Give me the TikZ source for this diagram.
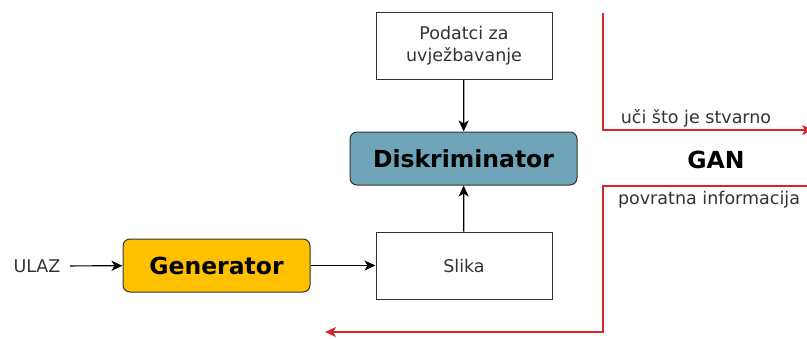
\documentclass[tikz,border=0pt]{standalone}
\usepackage{fontspec}
\setmainfont{DejaVu Sans}
\usetikzlibrary{arrows.meta, positioning}
\definecolor{genYellow}{RGB}{255,192,0}
\definecolor{diskBlue}{RGB}{111,164,184}
\definecolor{fbRed}{RGB}{214,38,44}
\definecolor{boxGray}{gray}{0.2}

\begin{document}
\begin{tikzpicture}[x=1pt, y=-1pt, >={Stealth[length=11pt, width=10pt, inset=3pt]},
    txt/.style={font=\fontsize{17.5}{22}\selectfont, text=boxGray},
    plainbox/.style={txt, draw=boxGray, fill=white, line width=1pt, minimum width=176pt, minimum height=67pt, align=center},
    roundbox/.style={draw=boxGray, line width=1pt, rounded corners=7pt, minimum height=53pt, font=\bfseries\fontsize{23.5}{28}\selectfont},
    link/.style={->, line width=1.2pt},
    redline/.style={->, fbRed, line width=1.2pt}]
    \useasboundingbox (0,0) rectangle (807,338);

    % boxes
    \node[plainbox] (data) at (464,45.5) {Podatci za\\uvježbavanje};
    \node[roundbox, fill=diskBlue, minimum width=227pt] (disk) at (463.5,158.5) {Diskriminator};
    \node[plainbox] (img) at (464,265.5) {Slika};
    \node[roundbox, fill=genYellow, minimum width=187pt] (gen) at (216.5,265.5) {Generator};
    \node[txt] (in) at (37,266) {ULAZ};

    % connectors
    \draw[link, shorten <=6pt] (in) -- (gen);
    \draw[link] (gen) -- (img);
    \draw[link] (img) -- (disk);
    \draw[link] (data) -- (disk);

    % feedback loop
    \coordinate (t1) at (603,13);
    \coordinate (t2) at (603,130);
    \coordinate (t3) at (813,130);
    \coordinate (b1) at (809,186);
    \coordinate (b2) at (603,186);
    \coordinate (b3) at (603,332);
    \coordinate (b4) at (325,332);
    \draw[redline] (t1) -- (t2) -- (t3);
    \draw[redline] (b1) -- (b2) -- (b3) -- (b4);
    \node[txt] (learn) at (696,118) {uči što je stvarno};
    \node[txt] (fb) at (709,200) {povratna informacija};
    \node[font=\bfseries\fontsize{23.5}{28}\selectfont] (gan) at (716,160) {GAN};
\end{tikzpicture}
\end{document}
